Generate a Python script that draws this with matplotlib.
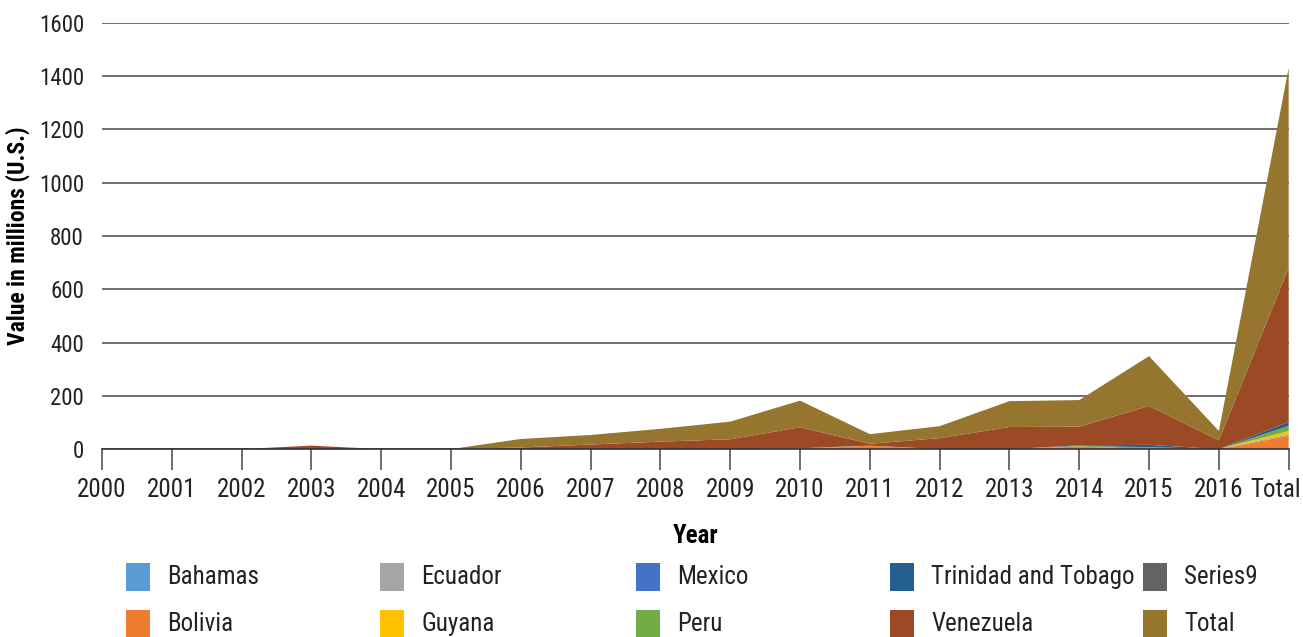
import matplotlib
matplotlib.use("Agg")
import matplotlib.pyplot as plt
from matplotlib.patches import Rectangle
from matplotlib import font_manager
from matplotlib.transforms import ScaledTranslation

names = {f.name for f in font_manager.fontManager.ttflist}
fam = [f for f in ["Liberation Sans Narrow", "Roboto Condensed", "Open Sans Condensed"] if f in names] + ["DejaVu Sans"]
plt.rcParams['font.family'] = fam

years = ["2000", "2001", "2002", "2003", "2004", "2005", "2006", "2007", "2008",
         "2009", "2010", "2011", "2012", "2013", "2014", "2015", "2016", "Total"]

bahamas   = [0, 0, 0, 0, 0, 0, 0, 0, 0, 0, 0, 0, 0, 0, 0, 0, 0, 0]
bolivia   = [0, 0, 0, 0, 0, 0, 0, 0, 0, 0, 0, 13, 0, 0, 10, 0, 0, 50]
ecuador   = [0, 0, 0, 0, 0, 0, 0, 0, 0, 0, 0, 0, 0, 0, 0, 0, 0, 6]
guyana    = [0, 0, 0, 0, 0, 0, 0, 0, 0, 0, 0, 0, 0, 0, 0, 0, 0, 12]
mexico    = [0, 0, 0, 0, 0, 0, 0, 0, 0, 0, 0, 0, 0, 0, 0, 0, 0, 0]
peru      = [0, 0, 0, 0, 0, 0, 0, 0, 0, 0, 3, 0, 0, 0, 2, 7, 0, 19]
trinidad  = [0, 0, 0, 0, 0, 0, 0, 0, 0, 0, 0, 0, 0, 0, 2, 9, 0, 15]
venezuela = [0, 0, 0, 13, 0, 0, 6, 17, 28, 37, 79, 7, 41, 83, 70, 146, 33, 578]
series9   = [0, 0, 0, 0, 0, 0, 0, 0, 0, 0, 0, 0, 0, 0, 0, 0, 0, 0]
total     = [0, 0, 0, 0, 0, 0, 32, 36, 48, 66, 100, 36, 45, 97, 100, 187, 35, 751]

series_names = ["Bahamas", "Bolivia", "Ecuador", "Guyana", "Mexico", "Peru",
                "Trinidad and Tobago", "Venezuela", "Series9", "Total"]
series_vals = [bahamas, bolivia, ecuador, guyana, mexico, peru, trinidad,
               venezuela, series9, total]
colors = ["#5B9BD5", "#ED7D31", "#A5A5A5", "#FFC000", "#4472C4", "#70AD47",
          "#255E91", "#9C4A26", "#636363", "#96752E"]

FS = 18
fig = plt.figure(figsize=(13.03, 6.37), dpi=100)
ax = fig.add_axes([0.0783, 0.295, 0.9107, 0.669])

x = list(range(len(years)))
ax.stackplot(x, *series_vals, colors=colors, linewidth=0)

ax.set_xlim(0, len(years) - 1)
ax.set_ylim(0, 1600)
ax.set_yticks(range(0, 1601, 200))
ax.set_xticks(x)
ax.set_xticklabels(years)
ax.yaxis.grid(True, color="#555555", linewidth=1.2)
ax.set_axisbelow(True)
for s in ["top", "right", "left"]:
    ax.spines[s].set_visible(False)
ax.spines["bottom"].set_color("#333333")
ax.spines["bottom"].set_linewidth(1.2)
ax.tick_params(axis="y", length=0, pad=13, labelsize=16.5, colors="#222222")
ax.tick_params(axis="x", length=15, width=1.2, color="#555555", pad=6,
               labelsize=FS, labelcolor="#222222")
last = ax.get_xticklabels()[-1]
last.set_horizontalalignment("right")
last.set_transform(last.get_transform() + ScaledTranslation(0.12, 0, fig.dpi_scale_trans))
ax.set_ylabel("Value in millions (U.S.)", fontsize=17, fontweight="bold")
ax.yaxis.set_label_coords(-0.061, 0.5)
ax.set_xlabel("Year", fontsize=FS, fontweight="bold", labelpad=16)

# legend: 5 columns x 2 rows, column-major
col_x = [126, 380, 636, 890, 1143]
row_y = [577, 624]
W, H = 1303, 637
for i, (name, c) in enumerate(zip(series_names, colors)):
    col, row = i // 2, i % 2
    px, py = col_x[col], row_y[row]
    fig.patches.append(Rectangle((px / W, 1 - (py + 14) / H), 24 / W, 28 / H,
                                 transform=fig.transFigure, facecolor=c,
                                 edgecolor="none"))
    fig.text((px + 41) / W, 1 - py / H, name, fontsize=FS, va="center",
             ha="left", color="#222222")

fig.savefig("out.png", dpi=100)
